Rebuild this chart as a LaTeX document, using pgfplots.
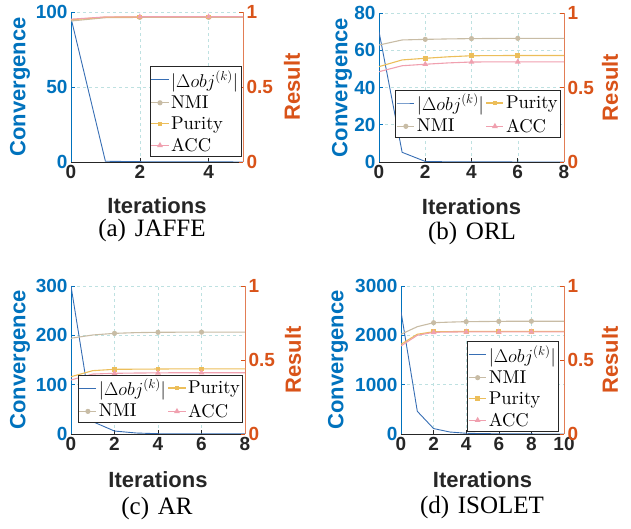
\documentclass[border=0pt]{standalone}
\usepackage{fix-cm}
\usepackage{fontspec}
\usepackage{pgfplots}
\pgfplotsset{compat=1.18}
\newfontfamily\helv{Liberation Sans}
\newfontfamily\tms{Liberation Serif}
\newfontfamily\lmten{lmroman10-regular}[Extension=.otf]
\definecolor{matblue}{RGB}{0,114,189}
\definecolor{lineblue}{RGB}{55,110,180}
\definecolor{matorange}{RGB}{217,83,25}
\definecolor{axorange}{RGB}{226,125,85}
\definecolor{nmic}{RGB}{200,188,165}
\definecolor{purc}{RGB}{236,190,90}
\definecolor{accc}{RGB}{240,160,175}
\definecolor{dgray}{RGB}{38,38,38}
\definecolor{gridc}{RGB}{190,225,225}
\pgfplotsset{
  base/.style={scale only axis, xmin=0, tick align=inside, major tick length=4pt,
    /pgf/number format/assume math mode=true, /pgf/number format/1000 sep={},
    scaled ticks=false,
    ticklabel style={font=\helv\bfseries\fontsize{19}{19}\selectfont}},
  leftax/.style={base, axis y line*=left, axis x line*=bottom,
    x axis line style={-, draw=dgray, line width=0.7pt},
    y axis line style={-, draw=matblue, line width=0.7pt},
    xtick style={draw=dgray, line width=0.6pt}, ytick style={draw=matblue, line width=0.6pt},
    xticklabel style={text=dgray}, yticklabel style={text=matblue},
    grid=major, major grid style={dashed, gridc, line width=0.5pt},
    ymin=0, xlabel={Iterations}, ylabel={Convergence}},
  rightax/.style={base, axis y line*=right, axis x line=none, ymin=0, ymax=1, ytick={0,0.5,1},
    y axis line style={-, draw=axorange, line width=0.9pt},
    ytick style={draw=matorange, line width=0.6pt},
    yticklabel style={text=matorange}, ylabel={Result},
    legend cell align=left,
    legend image code/.code={\draw[##1, mark indices={2}] plot coordinates {(0cm,0cm) (0.3cm,0cm) (0.6cm,0cm)};},
    legend style={anchor=south east, font=\lmten\fontsize{18.5}{22}\selectfont, draw=dgray,
      fill=white, line width=0.6pt, inner xsep=1pt, inner ysep=2pt, row sep=3pt, column sep=0pt}},
  xl/.style={every axis x label/.style={at={(axis description cs:0.5,#1)}, anchor=center,
    font=\helv\bfseries\fontsize{22}{22}\selectfont, text=dgray}},
  yl/.style={every axis y label/.style={at={(axis description cs:#1,0.5)}, anchor=center, rotate=90,
    font=\helv\bfseries\fontsize{22}{22}\selectfont, text=matblue}},
  yr/.style={every axis y label/.style={at={(axis description cs:#1,0.5)}, anchor=center, rotate=90,
    font=\helv\bfseries\fontsize{22}{22}\selectfont, text=matorange}},
  obj/.style={lineblue, line width=0.9pt, no marks},
  nmi/.style={nmic, line width=1.1pt, mark=*, mark size=2pt, mark options={solid, fill=nmic}},
  pur/.style={purc, line width=1.1pt, mark=square*, mark size=1.8pt, mark options={solid, fill=purc}},
  acc/.style={accc, line width=1.1pt, mark=triangle*, mark size=2.3pt, mark options={solid, fill=accc}},
}
\begin{document}
\begin{tikzpicture}
\useasboundingbox (0,0) rectangle (631pt,529pt);
% (a) JAFFE
\begin{axis}[leftax, at={(71pt,367pt)}, anchor=south west, width=172pt, height=150pt,
  xmax=5, ymax=100, xtick={0,2,4}, ytick={0,50,100}, xl=-0.293, yl=-0.297]
\addplot[obj] coordinates {(0,96) (1,0.5) (2,0.2) (3,0.1) (4,0.05) (5,0.02)};
\end{axis}
\begin{axis}[rightax, at={(71pt,367pt)}, anchor=south west, width=172pt, height=150pt,
  xmax=5, yr=1.285, legend style={at={(0.99,0.033)}}]
\addlegendimage{obj}\addlegendentry{$|\Delta obj^{(k)}|$}
\addplot[nmi, mark indices={3,5}] coordinates {(0,0.940) (1,0.962) (2,0.964) (3,0.964) (4,0.964) (5,0.964)};
\addlegendentry{NMI}
\addplot[pur, mark indices={3,5}] coordinates {(0,0.948) (1,0.966) (2,0.967) (3,0.967) (4,0.967) (5,0.967)};
\addlegendentry{Purity}
\addplot[acc, mark indices={3,5}] coordinates {(0,0.952) (1,0.967) (2,0.968) (3,0.968) (4,0.968) (5,0.968)};
\addlegendentry{ACC}
\end{axis}
% (b) ORL
\begin{axis}[leftax, at={(379pt,367pt)}, anchor=south west, width=185pt, height=149pt,
  xmax=8, ymax=80, xtick={0,2,4,6,8}, ytick={0,20,40,60,80}, xl=-0.302, yl=-0.2]
\addplot[obj] coordinates {(0,70) (1,5.2) (2,0.3) (3,0.1) (4,0.05) (5,0.03) (6,0.02) (7,0.01) (8,0.01)};
\end{axis}
\begin{axis}[rightax, at={(379pt,367pt)}, anchor=south west, width=185pt, height=149pt,
  xmax=8, yr=1.249, legend columns=2, transpose legend, legend style={at={(0.984,0.161)}}]
\addlegendimage{obj}\addlegendentry{$|\Delta obj^{(k)}|$}
\addplot[nmi, mark indices={3,5,7}] coordinates {(0,0.785) (1,0.819) (2,0.823) (3,0.826) (4,0.828) (5,0.829) (6,0.830) (7,0.830) (8,0.830)};
\addlegendentry{NMI}
\addplot[pur, mark indices={3,5,7}] coordinates {(0,0.640) (1,0.685) (2,0.696) (3,0.706) (4,0.713) (5,0.714) (6,0.715) (7,0.715) (8,0.715)};
\addlegendentry{Purity}
\addplot[acc, mark indices={3,5,7}] coordinates {(0,0.606) (1,0.646) (2,0.656) (3,0.665) (4,0.671) (5,0.672) (6,0.672) (7,0.672) (8,0.672)};
\addlegendentry{ACC}
\end{axis}
% (c) AR
\begin{axis}[leftax, at={(71pt,95pt)}, anchor=south west, width=174pt, height=148pt,
  xmax=8, ymax=300, xtick={0,2,4,6,8}, ytick={0,100,200,300}, xl=-0.311, yl=-0.293]
\addplot[obj] coordinates {(0,300) (1,25) (2,6) (3,2) (4,0.6) (5,0.3) (6,0.2) (7,0.1) (8,0.1)};
\end{axis}
\begin{axis}[rightax, at={(71pt,95pt)}, anchor=south west, width=174pt, height=148pt,
  xmax=8, yr=1.276, legend columns=2, transpose legend, legend style={at={(0.989,0.074)}}]
\addlegendimage{obj}\addlegendentry{$|\Delta obj^{(k)}|$}
\addplot[nmi, mark indices={3,5,7}] coordinates {(0,0.647) (1,0.669) (2,0.680) (3,0.685) (4,0.687) (5,0.688) (6,0.688) (7,0.688) (8,0.688)};
\addlegendentry{NMI}
\addplot[pur, mark indices={3,5,7}] coordinates {(0,0.387) (1,0.428) (2,0.437) (3,0.438) (4,0.439) (5,0.440) (6,0.440) (7,0.440) (8,0.440)};
\addlegendentry{Purity}
\addplot[acc, mark indices={3,5,7}] coordinates {(0,0.365) (1,0.405) (2,0.410) (3,0.412) (4,0.413) (5,0.414) (6,0.414) (7,0.414) (8,0.414)};
\addlegendentry{ACC}
\end{axis}
% (d) ISOLET
\begin{axis}[leftax, at={(401pt,95pt)}, anchor=south west, width=163pt, height=148pt,
  xmax=10, ymax=3000, xtick={0,2,4,6,8,10}, ytick={0,1000,2000,3000}, xl=-0.311, yl=-0.387]
\addplot[obj] coordinates {(0,2480) (1,460) (2,110) (3,40) (4,15) (5,8) (6,4) (7,2) (8,1) (9,0.5) (10,0.3)};
\end{axis}
\begin{axis}[rightax, at={(401pt,95pt)}, anchor=south west, width=163pt, height=148pt,
  xmax=10, yr=1.282, legend style={at={(0.969,0.014)}}]
\addlegendimage{obj}\addlegendentry{$|\Delta obj^{(k)}|$}
\addplot[nmi, mark indices={3,5,7,9}] coordinates {(0,0.674) (1,0.725) (2,0.752) (3,0.756) (4,0.759) (5,0.760) (6,0.761) (7,0.762) (8,0.762) (9,0.762) (10,0.762)};
\addlegendentry{NMI}
\addplot[pur, mark indices={3,5,7,9}] coordinates {(0,0.606) (1,0.674) (2,0.691) (3,0.692) (4,0.693) (5,0.693) (6,0.693) (7,0.693) (8,0.693) (9,0.693) (10,0.693)};
\addlegendentry{Purity}
\addplot[acc, mark indices={3,5,7,9}] coordinates {(0,0.595) (1,0.667) (2,0.687) (3,0.689) (4,0.690) (5,0.690) (6,0.690) (7,0.690) (8,0.690) (9,0.690) (10,0.690)};
\addlegendentry{ACC}
\end{axis}
\node[font=\tms\fontsize{25}{25}\selectfont] at (152pt,299pt) {(a)\hspace{0.35em}JAFFE};
\node[font=\tms\fontsize{25}{25}\selectfont] at (472pt,296pt) {(b)\hspace{0.35em}ORL};
\node[font=\tms\fontsize{25}{25}\selectfont] at (157pt,21pt) {(c)\hspace{0.35em}AR};
\node[font=\tms\fontsize{25}{25}\selectfont] at (482pt,22pt) {(d)\hspace{0.35em}ISOLET};
\end{tikzpicture}
\end{document}
